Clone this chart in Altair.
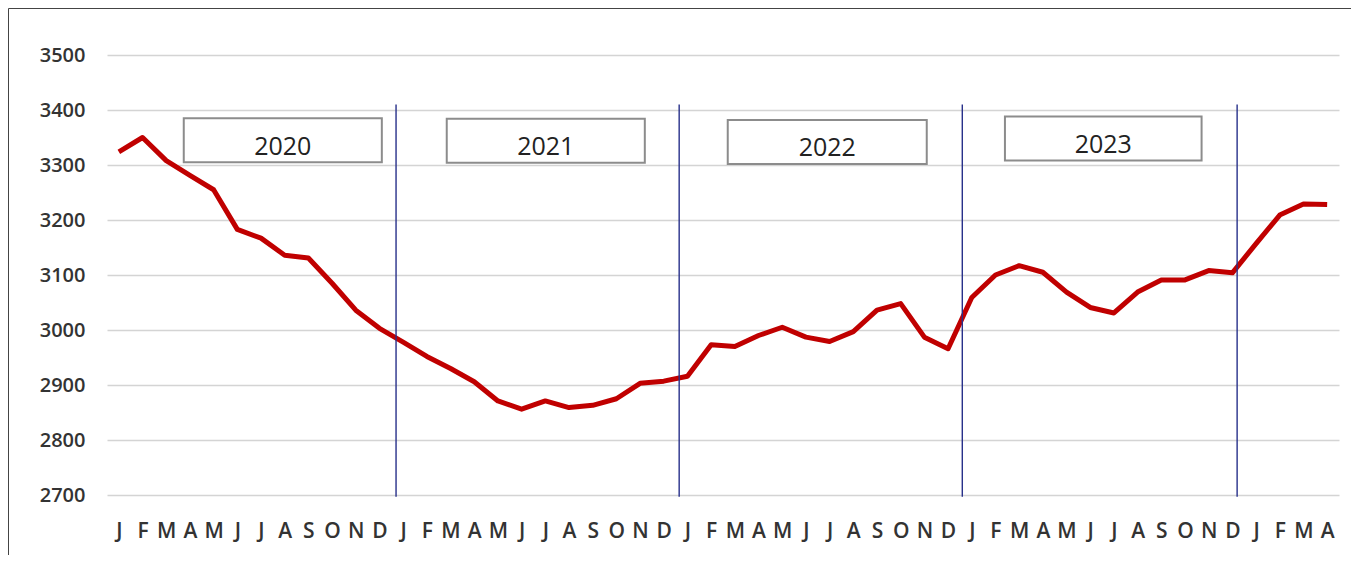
import json
import altair as alt
import pandas as pd

# ---- data ----
month_letters = ["J", "F", "M", "A", "M", "J", "J", "A", "S", "O", "N", "D"] * 4 + ["J", "F", "M", "A"]
values = [
    3324, 3350, 3308, 3281, 3255, 3183, 3167, 3136, 3131, 3085, 3036, 3003,   # 2020
    2978, 2952, 2930, 2906, 2871, 2856, 2871, 2859, 2863, 2875, 2903, 2907,   # 2021
    2916, 2973, 2970, 2990, 3005, 2987, 2979, 2997, 3036, 3048, 2987, 2966,   # 2022
    3059, 3100, 3117, 3105, 3069, 3041, 3031, 3069, 3091, 3091, 3108, 3104,   # 2023
    3157, 3209, 3229, 3228,                                                   # 2024
]
year_labels = ["2020", "2021", "2022", "2023"]
year_box_start = [2.74, 13.84, 25.7, 37.4]
year_box_end = [11.1, 22.2, 34.1, 45.7]
year_box_low = [3305, 3304, 3302, 3308]
year_box_high = [3385, 3384, 3382, 3388]
divider_pos = [11.7, 23.65, 35.6, 47.2]
y_ticks = [2700, 2800, 2900, 3000, 3100, 3200, 3300, 3400, 3500]

W, H = 1232, 440
FONT = "Open Sans"

df = pd.DataFrame({"idx": list(range(len(values))), "value": values})
boxes = pd.DataFrame({
    "label": year_labels,
    "x0": year_box_start, "x1": year_box_end,
    "y0": year_box_low, "y1": year_box_high,
})
boxes["xc"] = (boxes["x0"] + boxes["x1"]) / 2
boxes["ytext"] = boxes["y0"] + 14
dividers = pd.DataFrame({"pos": divider_pos, "top": [3410] * 4, "bottom": [2697] * 4})

xscale = alt.Scale(domain=[-0.5, len(values) - 0.5], nice=False, zero=False)
yscale = alt.Scale(domain=[2700, 3500], nice=False, zero=False)

label_expr = json.dumps(month_letters).replace('"', "'") + "[datum.value]"

x_axis = alt.Axis(values=list(range(len(values))), labelExpr=label_expr,
                  labelOverlap=False, labelBound=False,
                  grid=False, ticks=False, domain=False,
                  labelFont=FONT, labelFontSize=21, labelFontWeight=600,
                  labelColor="#333333", labelPadding=25, labelFlush=False)
y_axis = alt.Axis(values=y_ticks, format="d", grid=True, gridColor="#d4d4d4", gridWidth=1.6,
                  ticks=False, domain=False, labelOverlap=False,
                  labelFont=FONT, labelFontSize=20, labelFontWeight=600,
                  labelColor="#333333", labelPadding=22)

line = alt.Chart(df).mark_line(color="#C00000", strokeWidth=5, strokeJoin="round").encode(
    x=alt.X("idx:Q", scale=xscale, title=None, axis=x_axis),
    y=alt.Y("value:Q", scale=yscale, title=None, axis=y_axis),
)

rules = alt.Chart(dividers).mark_rule(color="#27308a", strokeWidth=1.4).encode(
    x=alt.X("pos:Q", scale=xscale, title=None, axis=x_axis),
    y=alt.Y("top:Q", scale=yscale, title=None, axis=y_axis),
    y2="bottom:Q",
)

rects = alt.Chart(boxes).mark_rect(fill="white", stroke="#8c8c8c", strokeWidth=2).encode(
    x=alt.X("x0:Q", scale=xscale, title=None, axis=x_axis), x2="x1:Q",
    y=alt.Y("y0:Q", scale=yscale, title=None, axis=y_axis), y2="y1:Q",
)

texts = alt.Chart(boxes).mark_text(font=FONT, fontSize=25, color="#222222", baseline="alphabetic").encode(
    x=alt.X("xc:Q", scale=xscale, title=None, axis=x_axis),
    y=alt.Y("ytext:Q", scale=yscale, title=None, axis=y_axis),
    text="label:N",
)

frame = alt.Chart(pd.DataFrame({"a": [0]})).mark_rect(
    fill=None, stroke="#444444", strokeWidth=1, clip=False
).encode(
    x=alt.value(-98.5), x2=alt.value(W + 300),
    y=alt.value(-46.5), y2=alt.value(H + 300),
)

chart = alt.layer(line, rules, rects, texts, frame).properties(
    width=W, height=H,
    autosize=alt.AutoSizeParams(type="none"),
    padding={"left": 99, "top": 47, "right": 12, "bottom": 60},
    background="white",
).configure_view(stroke=None).configure_axis(labelOverlap=False)

chart.save("out.html", embed_options={"renderer": "svg", "actions": False})
